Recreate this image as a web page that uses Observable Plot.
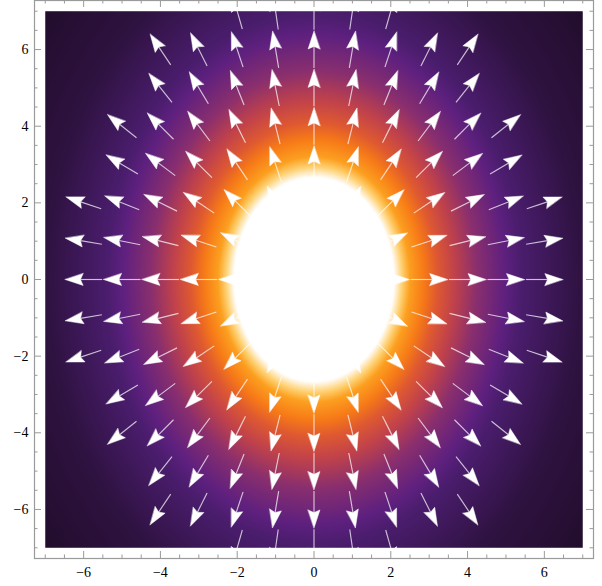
<!DOCTYPE html>
<html>
<head>
<meta charset="utf-8">
<script src="https://cdn.jsdelivr.net/npm/d3@7"></script>
<script src="https://cdn.jsdelivr.net/npm/@observablehq/plot@0.6"></script>
<style>
  body { margin: 0; background: #fff; }
</style>
</head>
<body>
<div id="chart"></div>
<script>
// Arrow grid: one row per y value, arrows at integer x from -max to +max
const rowY    = [7, 6, 5, 4, 3, 2, 1, 0, -1, -2, -3, -4, -5, -6, -7];
const rowXMax = [2, 4, 4, 5, 5, 6, 6, 6,  6,  6,  5,  5,  4,  4,  2];

// Shading: colour stops along the elliptical radius (vertical axis stretched)
const profileRadius = [0, 2.08, 2.3, 2.5, 2.87, 3.2, 3.65, 4.25, 5.0, 5.4, 7.0, 9.3];
const profileColor  = ["#ffffff", "#ffffff", "#ffd070", "#fca020", "#f77a18", "#e05a30",
                       "#c2434a", "#8a2f6e", "#5e207f", "#4b1d6e", "#2e1240", "#1f0c28"];
const yStretch = 1.28;

// Frame ticks and labels
const majorTicks = [-6, -4, -2, 0, 2, 4, 6];
const minorTicks = [-7, -6.5, -5.5, -5, -4.5, -3.5, -3, -2.5, -1.5, -1, -0.5,
                    0.5, 1, 1.5, 2.5, 3, 3.5, 4.5, 5, 5.5, 6.5, 7];

const W = 602, H = 586;
const marginLeft = 34, marginRight = 9, marginTop = 0, marginBottom = 28;
const plotW = W - marginLeft - marginRight;
const plotH = H - marginTop - marginBottom;
const lim = 7.28;   // frame extent (data range ±7 plus padding)
const fieldLim = 7;

const shade = d3.scaleLinear()
  .domain(profileRadius)
  .range(profileColor)
  .interpolate(d3.interpolateRgb)
  .clamp(true);

// Arrow geometry in data units: total length, head length, head half-width, notch
const L = 0.965, HL = 0.47, HW = 0.155, NOTCH = 0.07;

const points = rowY.flatMap((y, i) =>
  d3.range(-rowXMax[i], rowXMax[i] + 1).map(x => ({x, y}))
).filter(p => p.x !== 0 || p.y !== 0);

const shafts = [];
const heads = [];
points.forEach((p, id) => {
  const r = Math.hypot(p.x, p.y);
  const ux = p.x / r, uy = p.y / r;
  const nx = -uy, ny = ux;
  const tip = [p.x + ux * L / 2, p.y + uy * L / 2];
  const tail = [p.x - ux * L / 2, p.y - uy * L / 2];
  const base = [tip[0] - ux * HL, tip[1] - uy * HL];
  const notch = [tip[0] - ux * (HL - NOTCH), tip[1] - uy * (HL - NOTCH)];
  shafts.push({x1: tail[0], y1: tail[1], x2: notch[0], y2: notch[1]});
  heads.push({id, x: tip[0], y: tip[1]});
  heads.push({id, x: base[0] + nx * HW, y: base[1] + ny * HW});
  heads.push({id, x: notch[0], y: notch[1]});
  heads.push({id, x: base[0] - nx * HW, y: base[1] - ny * HW});
});

const fmt = d => (d < 0 ? "\u2212" + (-d) : String(d));
const frameGray = "#9a9a9a";

const chart = Plot.plot({
  width: W,
  height: H,
  marginLeft, marginRight, marginTop, marginBottom,
  x: {domain: [-lim, lim]},
  y: {domain: [-lim, lim]},
  color: {type: "identity"},
  style: {fontFamily: "'Liberation Serif', 'DejaVu Serif', serif", fontSize: "14px", background: "#fff"},
  marks: [
    Plot.raster({
      x1: -fieldLim, x2: fieldLim, y1: -fieldLim, y2: fieldLim,
      pixelSize: 1,
      fill: (x, y) => shade(Math.hypot(x, y / yStretch))
    }),
    Plot.link(shafts, {
      x1: "x1", y1: "y1", x2: "x2", y2: "y2",
      stroke: "white", strokeOpacity: 0.72, strokeWidth: 1.15, clip: "frame"
    }),
    Plot.line(heads, {
      x: "x", y: "y", z: "id", curve: "linear-closed",
      fill: "white", stroke: "white", strokeWidth: 0.5, clip: "frame"
    }),
    Plot.frame({stroke: frameGray, strokeWidth: 1.2}),
    // inward ticks on all four sides
    Plot.ruleX(majorTicks, {x: d => d, insetTop: plotH - 7, stroke: frameGray}),
    Plot.ruleX(majorTicks, {x: d => d, insetBottom: plotH - 7, stroke: frameGray}),
    Plot.ruleX(minorTicks, {x: d => d, insetTop: plotH - 3.5, stroke: frameGray}),
    Plot.ruleX(minorTicks, {x: d => d, insetBottom: plotH - 3.5, stroke: frameGray}),
    Plot.ruleY(majorTicks, {y: d => d, insetRight: plotW - 7, stroke: frameGray}),
    Plot.ruleY(majorTicks, {y: d => d, insetLeft: plotW - 7, stroke: frameGray}),
    Plot.ruleY(minorTicks, {y: d => d, insetRight: plotW - 3.5, stroke: frameGray}),
    Plot.ruleY(minorTicks, {y: d => d, insetLeft: plotW - 3.5, stroke: frameGray}),
    Plot.axisX(majorTicks, {anchor: "bottom", tickSize: 0, tickPadding: 9, tickFormat: fmt, label: null, fontSize: 14}),
    Plot.axisY(majorTicks, {anchor: "left", tickSize: 0, tickPadding: 6, tickFormat: fmt, label: null, fontSize: 14})
  ]
});

document.getElementById("chart").appendChild(chart);
</script>
</body>
</html>
